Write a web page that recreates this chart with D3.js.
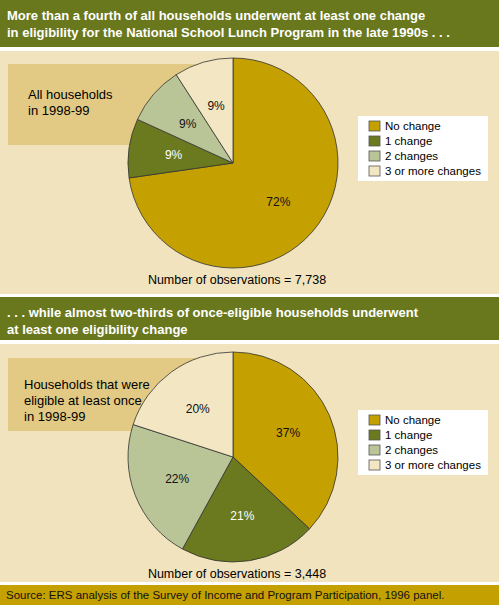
<!DOCTYPE html>
<html><head><meta charset="utf-8">
<script src="https://cdn.jsdelivr.net/npm/d3@7"></script>
<style>body{margin:0;background:#fff}svg{display:block;font-family:"Liberation Sans",Arial,sans-serif}</style>
</head><body><svg width="499" height="605"></svg>
<script>
const categories = ["No change", "1 change", "2 changes", "3 or more changes"]
const allHouseholds = [72, 9, 9, 9]
const eligibleHouseholds = [37, 21, 22, 20]
const colors = ["#c4a000", "#6b7a1e", "#b9c497", "#f3e6c2"]
const labelColors = ["#111", "#fff", "#111", "#111"]

const svg = d3.select("svg")

function band(y, h, fill, lines, size, bold, color) {
  svg.append("rect").attr("x", 0).attr("y", y).attr("width", 499).attr("height", h).attr("fill", fill)
  lines.forEach((t, i) => svg.append("text").attr("x", 7).attr("y", y + 20 + i * 17)
    .attr("font-size", size).attr("font-weight", bold ? "bold" : "normal").attr("fill", color).text(t))
}

function panel(y0, h, values, boxLines, boxH, cy, obs) {
  svg.append("rect").attr("x", 0).attr("y", y0).attr("width", 499).attr("height", h).attr("fill", "#f0e3bd")
  svg.append("rect").attr("x", 8).attr("y", cy - 99).attr("width", 200).attr("height", boxH).attr("fill", "#e2ca85")
  boxLines.forEach((t, i) => svg.append("text").attr("x", 28 - (boxLines.length > 2 ? 4 : 0))
    .attr("y", cy - 64 + (boxLines.length > 2 ? -4 : 0) + i * 16).attr("font-size", 13).text(t))

  const pie = d3.pie().sort(null)(values)
  const arc = d3.arc().innerRadius(0).outerRadius(105)
  const lab = d3.arc().innerRadius(60).outerRadius(60)
  const g = svg.append("g").attr("transform", `translate(233,${cy})`)
  g.selectAll("path").data(pie).join("path").attr("d", arc)
    .attr("fill", (d, i) => colors[i]).attr("stroke", "#333").attr("stroke-width", 0.8)
  g.selectAll("text").data(pie).join("text")
    .attr("transform", d => `translate(${lab.centroid(d)})`)
    .attr("text-anchor", "middle").attr("dy", "0.35em").attr("font-size", 12)
    .attr("fill", (d, i) => labelColors[i]).text(d => d.data + "%")

  svg.append("text").attr("x", 237).attr("y", cy + 121).attr("text-anchor", "middle")
    .attr("font-size", 12.5).text(`Number of observations = ${obs}`)

  const ly = cy - 47
  svg.append("rect").attr("x", 358).attr("y", ly).attr("width", 130).attr("height", 65).attr("fill", "#fff")
  categories.forEach((c, i) => {
    svg.append("rect").attr("x", 369).attr("y", ly + 5 + i * 15).attr("width", 11).attr("height", 10)
      .attr("fill", colors[i]).attr("stroke", "#555").attr("stroke-width", 0.8)
    svg.append("text").attr("x", 385).attr("y", ly + 14 + i * 15).attr("font-size", 11.5).text(c)
  })
}

band(0, 47, "#69771d", ["More than a fourth of all households underwent at least one change",
  "in eligibility for the National School Lunch Program in the late 1990s . . ."], 13, true, "#fff")
panel(51, 243, allHouseholds, ["All households", "in 1998-99"], 81, 163, "7,738")
band(297, 43, "#69771d", [". . . while almost two-thirds of once-eligible households underwent",
  "at least one eligibility change"], 13, true, "#fff")
panel(344, 238, eligibleHouseholds, ["Households that were", "eligible at least once", "in 1998-99"], 73, 457, "3,448")
band(585, 20, "#c4a000", [], 12, false, "#111")
svg.append("text").attr("x", 6).attr("y", 599).attr("font-size", 11.5).attr("fill", "#111")
  .text("Source:  ERS analysis of the Survey of Income and Program Participation, 1996 panel.")
</script></body></html>
